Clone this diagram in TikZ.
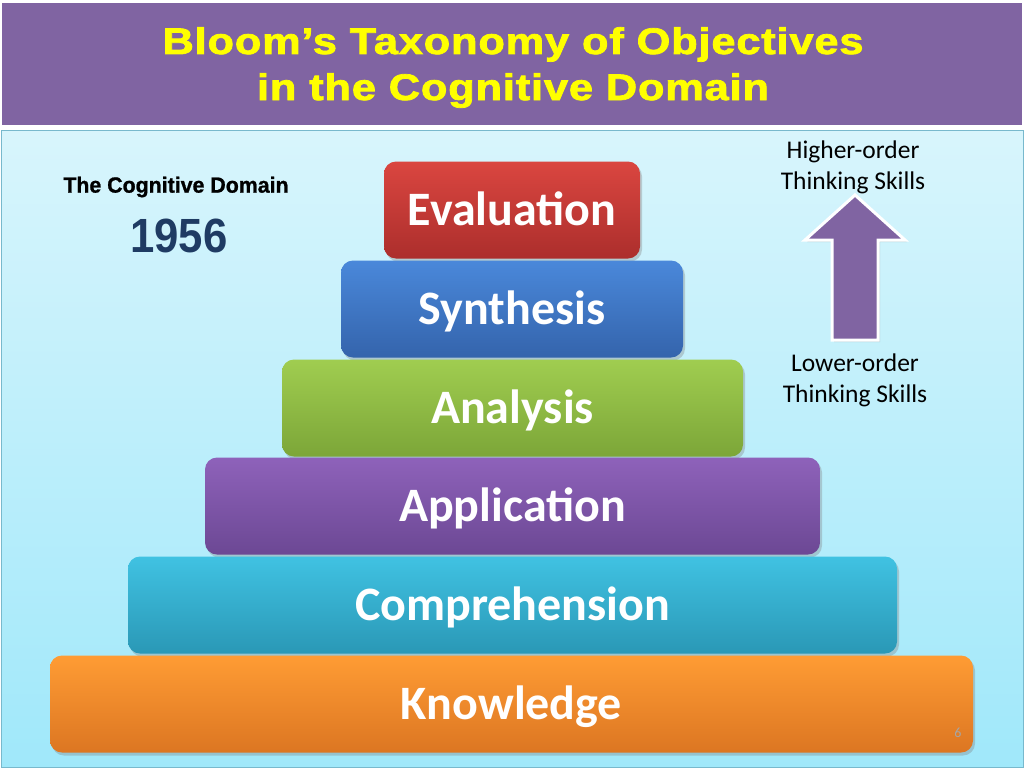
\documentclass[tikz,border=0pt]{standalone}
\usepackage{fontspec}
\setmainfont{Carlito}
\newfontfamily\arialfont{Liberation Sans}
\newfontfamily\heavyfont[FakeBold=1]{Liberation Sans}
\newfontfamily\titlefont[LetterSpace=2,FakeBold=2]{Liberation Sans}
\usetikzlibrary{shadows}
\definecolor{titlepurple}{RGB}{128,100,162}
\definecolor{titleyellow}{RGB}{255,255,0}
\definecolor{skytop}{RGB}{216,245,252}
\definecolor{skybottom}{RGB}{160,232,250}
\definecolor{skyborder}{RGB}{120,185,205}
\definecolor{navy}{RGB}{31,59,99}
\definecolor{evaltop}{RGB}{218,70,64}
\definecolor{evalbot}{RGB}{172,46,44}
\definecolor{synthtop}{RGB}{74,136,218}
\definecolor{synthbot}{RGB}{52,100,172}
\definecolor{analtop}{RGB}{160,205,80}
\definecolor{analbot}{RGB}{124,166,56}
\definecolor{appltop}{RGB}{142,98,186}
\definecolor{applbot}{RGB}{108,72,148}
\definecolor{comptop}{RGB}{64,194,226}
\definecolor{compbot}{RGB}{42,152,182}
\definecolor{knowtop}{RGB}{255,156,52}
\definecolor{knowbot}{RGB}{220,118,34}

\begin{document}
\begin{tikzpicture}[x=1pt, y=-1pt,
  stepbox/.style={rounded corners=12pt, inner sep=0pt, text=white,
    font=\fontsize{48}{52}\selectfont\bfseries, text height=31pt, text depth=0pt,
    minimum height=97pt, drop shadow={opacity=0.35, shadow xshift=2pt, shadow yshift=-3pt}},
  titleline/.style={font=\titlefont\bfseries\fontsize{37}{40}\selectfont, text=titleyellow,
    anchor=base, inner sep=0pt, xscale=1.17},
  skilltext/.style={font=\fontsize{25.5}{31}\selectfont, align=center, inner sep=0pt}]
\useasboundingbox (0,0) rectangle (1024,768);
% background and title bar
\fill[white] (0,0) rectangle (1024,768);
\fill[titlepurple] (2,3) rectangle (1022,125);
\draw[skyborder, top color=skytop, bottom color=skybottom] (1,130) rectangle (1023,767);
\node[titleline] (title) at (513,54) {Bloom’s Taxonomy of Objectives};
\node[titleline] (subtitle) at (513,100) {in the Cognitive Domain};
% left labels
\node[font=\heavyfont\bfseries\fontsize{22}{26}\selectfont, xscale=0.97] (domain) at (176,187) {The Cognitive Domain};
\node[font=\arialfont\bfseries\fontsize{48}{52}\selectfont, text=navy, xscale=0.91] (year) at (179,236) {1956};
% the steps
\node[stepbox, top color=evaltop, bottom color=evalbot, minimum width=256pt] (eval) at (512,210) {Evaluation};
\node[stepbox, top color=synthtop, bottom color=synthbot, minimum width=342pt] (synth) at (512,309) {Synthesis};
\node[stepbox, top color=analtop, bottom color=analbot, minimum width=461pt] (anal) at (512.5,408) {Analysis};
\node[stepbox, top color=appltop, bottom color=applbot, minimum width=615pt] (appl) at (512.5,506) {Application};
\node[stepbox, top color=comptop, bottom color=compbot, minimum width=769pt] (comp) at (512.5,605) {Comprehension};
\node[stepbox, top color=knowtop, bottom color=knowbot, minimum width=923pt] (know) at (511.5,704) {Knowledge};
% arrow on the right
\draw[white, line width=3pt, fill=titlepurple, line join=miter, drop shadow={opacity=0.3, shadow xshift=2pt, shadow yshift=-2pt}]
  (832,340) -- (832,240) -- (805,240) -- (855,195) -- (905,240) -- (878,240) -- (878,340) -- cycle;
\node[skilltext] (higher) at (853,167) {Higher-order\\Thinking Skills};
\node[skilltext] (lower) at (855,380) {Lower-order\\Thinking Skills};
\node[font=\fontsize{14}{16}\selectfont, text=gray!70] (page) at (958,733) {6};
\end{tikzpicture}
\end{document}
